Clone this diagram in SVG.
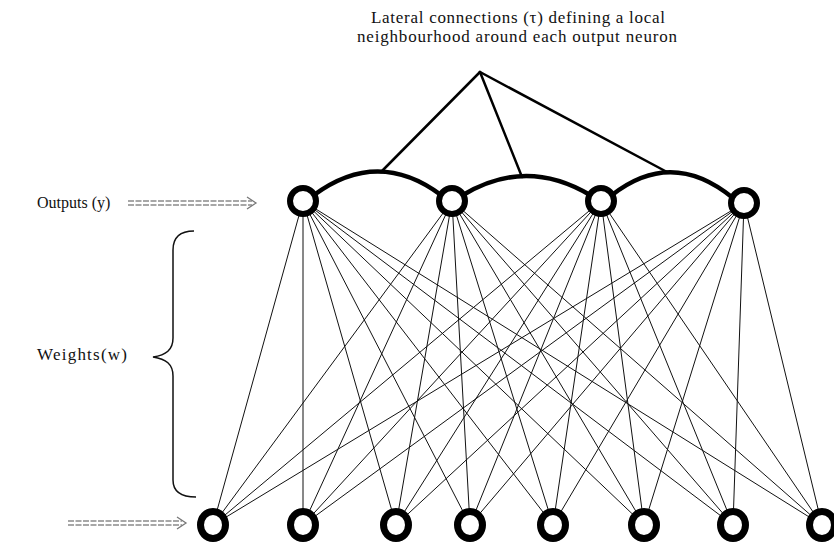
<svg xmlns="http://www.w3.org/2000/svg" width="834" height="544" viewBox="0 0 834 544">
<style>
  .txt { font-family: "Liberation Serif", "Times New Roman", serif; fill: #111; }
  .w { stroke: #111; stroke-width: 1; }
  .lat { stroke: #000; stroke-width: 2.5; fill: none; stroke-linecap: round; }
  .arc { stroke: #000; stroke-width: 4.5; fill: none; }
  .outn { fill: #fff; stroke: #000; stroke-width: 6; }
  .inn { fill: #fff; stroke: #000; stroke-width: 7; }
  .dbl { stroke: #8a8a8a; stroke-width: 1.3; stroke-dasharray: 6 1.5; }
  .head { stroke: #777; stroke-width: 1.3; fill: none; }
  .brace { stroke: #111; stroke-width: 1.5; fill: none; }
</style>
<rect width="834" height="544" fill="#fff"/>

<g id="label-lateral">
  <text class="txt" font-size="17" x="518" y="23" text-anchor="middle" textLength="294" lengthAdjust="spacing">Lateral connections (τ) defining a local</text>
  <text class="txt" font-size="17" x="517" y="42" text-anchor="middle" textLength="320" lengthAdjust="spacing">neighbourhood around each output neuron</text>
</g>

<g id="label-outputs">
  <text class="txt" font-size="16" x="37" y="208">Outputs (y)</text>
</g>
<g id="label-weights">
  <text class="txt" font-size="17" x="37" y="360" textLength="90" lengthAdjust="spacing">Weights(w)</text>
</g>

<g id="connectors">
  <!-- lateral pointer lines -->
  <line class="lat" x1="480" y1="72" x2="381" y2="172"/>
  <line class="lat" x1="480" y1="72" x2="522" y2="177"/>
  <line class="lat" x1="480" y1="72" x2="667" y2="172"/>
  <!-- lateral arcs -->
  <path class="arc" d="M314 195 Q378 148 441 195"/>
  <path class="arc" d="M463 195 Q526 157 590 195"/>
  <path class="arc" d="M612 195 Q672 148 733 198"/>
  <!-- arrows -->
  <line class="dbl" x1="128" y1="201" x2="252" y2="201"/>
  <line class="dbl" x1="128" y1="205" x2="252" y2="205"/>
  <polyline class="head" points="247,197 256,203 247,209"/>
  <line class="dbl" x1="68" y1="521" x2="182" y2="521"/>
  <line class="dbl" x1="68" y1="525" x2="182" y2="525"/>
  <polyline class="head" points="177,517 186,523 177,529"/>
  <!-- brace -->
  <path class="brace" d="M194 231 C181 231 173 237 173 250 L173 338 C173 350 166 355 153 357 C166 359 173 364 173 376 L173 480 C173 491 180 497 196 497"/>
  <!-- weights -->
  <g id="weights">
    <line class="w" x1="303" y1="201" x2="213" y2="525"/>
    <line class="w" x1="303" y1="201" x2="303" y2="525"/>
    <line class="w" x1="303" y1="201" x2="396" y2="525"/>
    <line class="w" x1="303" y1="201" x2="470" y2="525"/>
    <line class="w" x1="303" y1="201" x2="553" y2="525"/>
    <line class="w" x1="303" y1="201" x2="644" y2="525"/>
    <line class="w" x1="303" y1="201" x2="733" y2="525"/>
    <line class="w" x1="303" y1="201" x2="822" y2="525"/>
    <line class="w" x1="452" y1="201" x2="213" y2="525"/>
    <line class="w" x1="452" y1="201" x2="303" y2="525"/>
    <line class="w" x1="452" y1="201" x2="396" y2="525"/>
    <line class="w" x1="452" y1="201" x2="470" y2="525"/>
    <line class="w" x1="452" y1="201" x2="553" y2="525"/>
    <line class="w" x1="452" y1="201" x2="644" y2="525"/>
    <line class="w" x1="452" y1="201" x2="733" y2="525"/>
    <line class="w" x1="452" y1="201" x2="822" y2="525"/>
    <line class="w" x1="601" y1="201" x2="213" y2="525"/>
    <line class="w" x1="601" y1="201" x2="303" y2="525"/>
    <line class="w" x1="601" y1="201" x2="396" y2="525"/>
    <line class="w" x1="601" y1="201" x2="470" y2="525"/>
    <line class="w" x1="601" y1="201" x2="553" y2="525"/>
    <line class="w" x1="601" y1="201" x2="644" y2="525"/>
    <line class="w" x1="601" y1="201" x2="733" y2="525"/>
    <line class="w" x1="601" y1="201" x2="822" y2="525"/>
    <line class="w" x1="744" y1="203" x2="213" y2="525"/>
    <line class="w" x1="744" y1="203" x2="303" y2="525"/>
    <line class="w" x1="744" y1="203" x2="396" y2="525"/>
    <line class="w" x1="744" y1="203" x2="470" y2="525"/>
    <line class="w" x1="744" y1="203" x2="553" y2="525"/>
    <line class="w" x1="744" y1="203" x2="644" y2="525"/>
    <line class="w" x1="744" y1="203" x2="733" y2="525"/>
    <line class="w" x1="744" y1="203" x2="822" y2="525"/>
  </g>
</g>

<g id="out1"><circle class="outn" cx="303" cy="201" r="13"/></g>
<g id="out2"><circle class="outn" cx="452" cy="201" r="13"/></g>
<g id="out3"><circle class="outn" cx="601" cy="201" r="13"/></g>
<g id="out4"><circle class="outn" cx="744" cy="203" r="13"/></g>

<g id="in1"><ellipse class="inn" cx="213" cy="525" rx="12.5" ry="13.5"/></g>
<g id="in2"><ellipse class="inn" cx="303" cy="525" rx="12.5" ry="13.5"/></g>
<g id="in3"><ellipse class="inn" cx="396" cy="525" rx="12.5" ry="13.5"/></g>
<g id="in4"><ellipse class="inn" cx="470" cy="525" rx="12.5" ry="13.5"/></g>
<g id="in5"><ellipse class="inn" cx="553" cy="525" rx="12.5" ry="13.5"/></g>
<g id="in6"><ellipse class="inn" cx="644" cy="525" rx="12.5" ry="13.5"/></g>
<g id="in7"><ellipse class="inn" cx="733" cy="525" rx="12.5" ry="13.5"/></g>
<g id="in8"><ellipse class="inn" cx="822" cy="525" rx="12.5" ry="13.5"/></g>
</svg>
